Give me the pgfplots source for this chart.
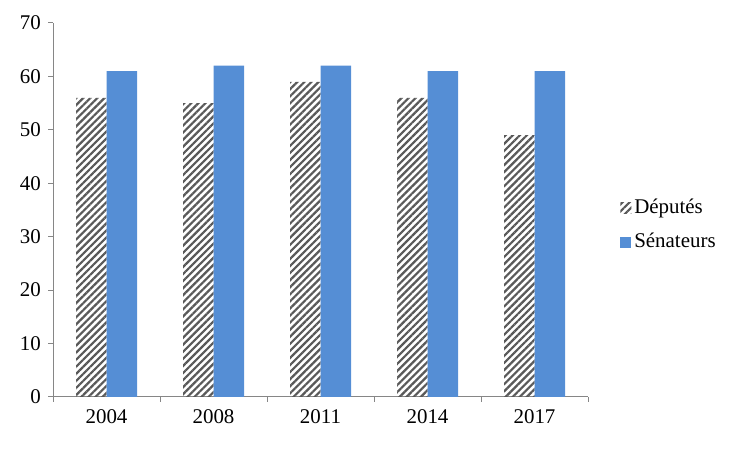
\documentclass[border=0pt]{standalone}
\usepackage{fontspec}
\setmainfont{Liberation Serif}
\usepackage{pgfplots}
\pgfplotsset{compat=1.18}
\usetikzlibrary{patterns.meta}
\definecolor{blu}{HTML}{558ED5}
\definecolor{hatch}{HTML}{595959}
\definecolor{axgray}{HTML}{868686}
\begin{document}
\fontsize{21}{25}\selectfont
\begin{tikzpicture}
\useasboundingbox (0,0) rectangle (750bp,450bp);
\begin{axis}[
 at={(53bp,53bp)}, anchor=south west,
 scale only axis, width=535bp, height=374bp,
 ymin=0, ymax=70, xmin=-0.5, xmax=4.5,
 ytick={0,10,...,70},
 xtick={0,1,2,3,4}, xticklabels={2004,2008,2011,2014,2017},
 /pgf/number format/assume math mode=true,
 axis x line*=bottom, axis y line*=left,
 axis line style={draw=axgray, line width=1bp},
 tick align=outside, major tick length=5bp, minor tick length=5bp,
 every tick/.style={draw=axgray, line width=1bp},
 major x tick style={draw=none},
 minor xtick={-0.5,0.5,1.5,2.5,3.5,4.5},
 ybar=0pt, bar width=30.5bp,
 legend style={at={(1.06,0.46)}, anchor=west, draw=none, fill=none, row sep=13bp, inner sep=0pt,
   nodes={inner xsep=3bp}},
 legend cell align=left,
 legend image code/.code={\path[#1] (0bp,-5.5bp) rectangle (11bp,5.5bp);},
]
\addplot[draw=none, pattern={Lines[angle=45,distance=5bp,line width=2.2bp]}, pattern color=hatch] coordinates {(0,56)(1,55)(2,59)(3,56)(4,49)};
\addplot[draw=none, fill=blu] coordinates {(0,61)(1,62)(2,62)(3,61)(4,61)};
\legend{Députés, Sénateurs}
\end{axis}
\end{tikzpicture}
\end{document}
